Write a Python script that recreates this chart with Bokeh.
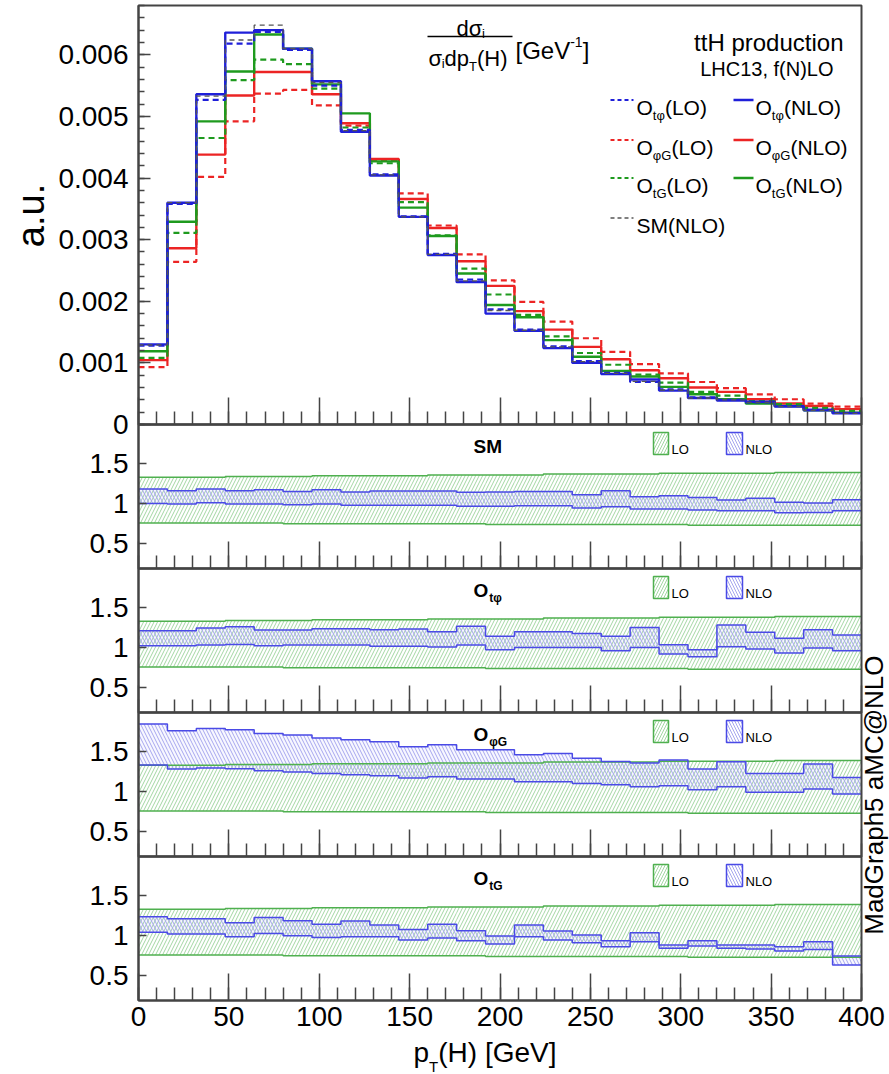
import math
from bokeh.plotting import figure
from bokeh.models import Range1d, LinearAxis, FixedTicker, Label
from bokeh.embed import file_html
from bokeh.resources import INLINE

# ---------------- data ----------------
bin_edges = list(range(0, 401, 16))  # p_T(H) bin edges [GeV]

# normalised distributions (1/sigma dsigma/dpT), in units of 1e-3 GeV^-1
otphi_lo = [1.28, 3.58, 5.27, 6.18, 6.37, 6.08, 5.50, 4.78, 4.06, 3.38, 2.77, 2.35, 1.87,
            1.54, 1.27, 1.03, 0.84, 0.69, 0.57, 0.44, 0.40, 0.36, 0.30, 0.24, 0.19]
otphi_nlo = [1.30, 3.60, 5.36, 6.36, 6.40, 6.10, 5.57, 4.75, 4.04, 3.37, 2.75, 2.31, 1.80,
             1.52, 1.24, 1.00, 0.82, 0.73, 0.55, 0.43, 0.39, 0.37, 0.29, 0.23, 0.18]
ophig_lo = [0.93, 2.64, 4.02, 4.92, 5.37, 5.43, 5.18, 4.85, 4.29, 3.75, 3.23, 2.76, 2.34,
            1.99, 1.67, 1.40, 1.18, 0.98, 0.83, 0.69, 0.59, 0.49, 0.41, 0.34, 0.29]
ophig_nlo = [1.045, 2.86, 4.38, 5.34, 5.72, 5.72, 5.36, 4.89, 4.31, 3.66, 3.19, 2.65, 2.25,
             1.84, 1.54, 1.26, 1.06, 0.88, 0.75, 0.60, 0.53, 0.41, 0.34, 0.30, 0.25]
otg_lo = [1.08, 3.11, 4.65, 5.59, 5.92, 5.85, 5.45, 4.82, 4.24, 3.61, 3.07, 2.53, 2.11,
          1.78, 1.43, 1.16, 0.97, 0.81, 0.68, 0.53, 0.47, 0.38, 0.33, 0.27, 0.22]
otg_nlo = [1.19, 3.29, 4.92, 5.73, 6.33, 6.10, 5.52, 5.05, 4.27, 3.52, 3.06, 2.45, 1.94,
           1.74, 1.37, 1.10, 0.87, 0.78, 0.61, 0.49, 0.41, 0.34, 0.30, 0.23, 0.19]
sm_nlo = [1.29, 3.60, 5.33, 6.24, 6.48, 6.10, 5.55, 4.77, 4.05, 3.37, 2.76, 2.33, 1.85,
          1.53, 1.26, 1.02, 0.83, 0.70, 0.56, 0.43, 0.40, 0.36, 0.29, 0.23, 0.18]

# scale-uncertainty bands (ratio to central value)
lo_band_up = [1.33, 1.33, 1.33, 1.34, 1.34, 1.34, 1.35, 1.35, 1.35, 1.35, 1.36, 1.36, 1.36,
              1.36, 1.37, 1.37, 1.37, 1.37, 1.38, 1.38, 1.38, 1.38, 1.39, 1.39, 1.39]
lo_band_dn = [0.76, 0.76, 0.76, 0.76, 0.76, 0.75, 0.75, 0.75, 0.75, 0.75, 0.75, 0.75, 0.74,
              0.74, 0.74, 0.74, 0.74, 0.74, 0.74, 0.73, 0.73, 0.73, 0.73, 0.73, 0.73]

sm_band_up = [1.183, 1.163, 1.183, 1.163, 1.175, 1.154, 1.175, 1.146, 1.158, 1.158, 1.158, 1.142, 1.146,
              1.154, 1.154, 1.113, 1.163, 1.088, 1.100, 1.079, 1.046, 1.067, 1.017, 1.008, 1.050]
sm_band_dn = [1.004, 0.996, 1.013, 0.996, 0.996, 0.988, 0.996, 0.980, 0.980, 0.980, 0.980, 0.967, 0.967,
              0.975, 0.975, 0.946, 0.963, 0.933, 0.933, 0.921, 0.913, 0.913, 0.888, 0.890, 0.913]

otphi_band_up = [1.213, 1.213, 1.246, 1.263, 1.221, 1.221, 1.238, 1.238, 1.225, 1.233, 1.200, 1.267, 1.142,
                 1.200, 1.200, 1.179, 1.142, 1.254, 1.038, 0.975, 1.283, 1.192, 1.117, 1.225, 1.158]
otphi_band_dn = [1.025, 1.025, 1.033, 1.040, 1.025, 1.035, 1.035, 1.035, 1.017, 1.017, 1.008, 1.033, 0.975,
                 1.004, 1.004, 1.004, 0.963, 1.004, 0.921, 0.888, 1.013, 0.983, 0.933, 0.996, 0.963]

ophig_band_up = [1.846, 1.763, 1.790, 1.775, 1.729, 1.708, 1.671, 1.650, 1.625, 1.563, 1.588, 1.525, 1.525,
                 1.463, 1.479, 1.417, 1.379, 1.358, 1.396, 1.283, 1.375, 1.229, 1.229, 1.346, 1.179]
ophig_band_dn = [1.333, 1.283, 1.296, 1.288, 1.263, 1.246, 1.229, 1.213, 1.200, 1.171, 1.188, 1.158, 1.158,
                 1.125, 1.125, 1.104, 1.088, 1.063, 1.075, 1.025, 1.063, 0.992, 0.992, 1.033, 0.971]

otg_band_up = [1.238, 1.213, 1.213, 1.163, 1.229, 1.188, 1.142, 1.183, 1.133, 1.079, 1.142, 1.063, 0.996,
               1.133, 1.058, 1.008, 0.938, 1.038, 0.883, 0.938, 0.883, 0.883, 0.863, 0.925, 0.746]
otg_band_dn = [1.042, 1.021, 1.021, 0.988, 1.029, 1.000, 0.979, 0.988, 0.988, 0.946, 0.971, 0.938, 0.896,
               0.988, 0.946, 0.913, 0.863, 0.925, 0.842, 0.871, 0.842, 0.833, 0.808, 0.829, 0.633]

top_ticks = [0, 0.001, 0.002, 0.003, 0.004, 0.005, 0.006]
top_tick_labels = ["0", "0.001", "0.002", "0.003", "0.004", "0.005", "0.006"]
ratio_ticks = [0.5, 1, 1.5]
ratio_tick_labels = ["0.5", "1", "1.5"]
x_ticks = [0, 50, 100, 150, 200, 250, 300, 350, 400]
x_tick_labels = ["0", "50", "100", "150", "200", "250", "300", "350", "400"]

# ---------------- style / layout ----------------
FONT = "Liberation Sans"
BLUE, RED, GREEN, GREY = "#1f1fd9", "#ec2424", "#1e9a1e", "#555555"
G_LINE, B_LINE = "#4fb04f", "#4a4ae6"
G_HATCH, B_HATCH = "#a3d6a3", "#a6a6ee"
AX = "#444444"

W, H = 889, 1074
FL, FR = 138, 861            # pixel x of pT = 0 and pT = 400
PANEL_PX = [5, 424, 568, 712, 856, 1000]
X_LO, X_HI = 0, 400
TOP_MAX = 0.0068
R_LO, R_HI = 0.19, 1.99

# the plotting frame covers the whole canvas; every panel gets its own scale
gx = (X_HI - X_LO) / (FR - FL)
x_range = Range1d(X_LO - FL * gx, X_HI + (W - FR) * gx)


def span_range(lo, hi, top_px, bot_px):
    s = (hi - lo) / (bot_px - top_px)
    return Range1d(start=lo - (H - bot_px) * s, end=hi + top_px * s)


rnames = ["r1", "r2", "r3", "r4"]
yr = {"top": span_range(0, TOP_MAX, PANEL_PX[0], PANEL_PX[1])}
for i, nm in enumerate(rnames):
    yr[nm] = span_range(R_LO, R_HI, PANEL_PX[i + 1], PANEL_PX[i + 2])

p = figure(width=W, height=H, output_backend="svg", toolbar_location=None,
           x_range=x_range, y_range=Range1d(-H, 0),
           x_axis_location=None, y_axis_location=None,
           min_border_left=0, min_border_right=0, min_border_top=0, min_border_bottom=0)
p.extra_x_ranges = {"px": Range1d(0, W)}
p.extra_y_ranges = yr
p.grid.visible = False
p.outline_line_color = None
p.background_fill_color = "white"
p.border_fill_color = "white"

# ---------------- top panel histograms ----------------
series = [
    (ophig_lo, RED, "6 4", 2.2), (ophig_nlo, RED, "solid", 2.4),
    (otg_lo, GREEN, "6 4", 2.2), (otg_nlo, GREEN, "solid", 2.4),
    (otphi_lo, BLUE, "6 4", 2.2), (otphi_nlo, BLUE, "solid", 2.4),
    (sm_nlo, GREY, "5 4", 1.3),
]
for vals, col, dash, w in series:
    ys = [v * 1e-3 for v in vals]
    p.step(x=bin_edges, y=ys + ys[-1:], mode="after", y_range_name="top",
           line_color=col, line_dash=dash, line_width=w)

# ---------------- ratio panels ----------------
panels = [
    ("r1", sm_band_up, sm_band_dn),
    ("r2", otphi_band_up, otphi_band_dn),
    ("r3", ophig_band_up, ophig_band_dn),
    ("r4", otg_band_up, otg_band_dn),
]
for rname, up, dn in panels:
    p.quad(left=bin_edges[:-1], right=bin_edges[1:], bottom=lo_band_dn, top=lo_band_up,
           y_range_name=rname, fill_color=None, line_color=None,
           hatch_pattern="/", hatch_color=G_HATCH, hatch_scale=7, hatch_weight=1)
    p.quad(left=bin_edges[:-1], right=bin_edges[1:], bottom=dn, top=up,
           y_range_name=rname, fill_color="#7070ff", fill_alpha=0.06, line_color=None,
           hatch_pattern="\\", hatch_color=B_HATCH, hatch_scale=7, hatch_weight=1)
    for arr, col in [(lo_band_up, G_LINE), (lo_band_dn, G_LINE), (up, B_LINE), (dn, B_LINE)]:
        p.step(x=bin_edges, y=arr + arr[-1:], mode="after", y_range_name=rname,
               line_color=col, line_width=1.5)

# panel frames
p.quad(left=[X_LO], right=[X_HI], bottom=[0], top=[TOP_MAX], y_range_name="top",
       fill_color=None, line_color=AX, line_width=2)
for rname in rnames:
    p.quad(left=[X_LO], right=[X_HI], bottom=[R_LO], top=[R_HI], y_range_name=rname,
           fill_color=None, line_color=AX, line_width=2)

# ---------------- axes ----------------
def style_axis(ax):
    ax.axis_line_color = AX
    ax.axis_line_width = 2
    ax.major_tick_line_color = AX
    ax.minor_tick_line_color = AX
    ax.major_tick_line_width = 1.5
    ax.minor_tick_line_width = 1.5
    ax.major_tick_out = 0
    ax.minor_tick_out = 0
    ax.major_label_text_font = FONT
    ax.major_label_text_font_size = "28px"
    ax.major_label_text_color = "black"


top_minor = [round(i * 0.0002, 4) for i in range(35)]
ya = LinearAxis(y_range_name="top", fixed_location=X_LO, bounds=(0, TOP_MAX),
                ticker=FixedTicker(ticks=top_ticks, minor_ticks=top_minor),
                major_label_overrides={t: s for t, s in zip(top_ticks, top_tick_labels)})
style_axis(ya)
ya.major_tick_in = 12
ya.minor_tick_in = 6
ya.major_label_standoff = 10
p.add_layout(ya, "left")

for rname in rnames:
    ra = LinearAxis(y_range_name=rname, fixed_location=X_LO, bounds=(R_LO, R_HI),
                    ticker=FixedTicker(ticks=ratio_ticks, minor_ticks=[]),
                    major_label_overrides={t: s for t, s in zip(ratio_ticks, ratio_tick_labels)})
    style_axis(ra)
    ra.major_tick_in = 8
    ra.minor_tick_in = 0
    ra.major_label_standoff = 10
    p.add_layout(ra, "left")

x_minor = list(range(0, 401, 10))
for rname in ["top"] + rnames:
    lo = 0 if rname == "top" else R_LO
    xa = LinearAxis(y_range_name=rname, fixed_location=lo, bounds=(X_LO, X_HI),
                    ticker=FixedTicker(ticks=x_ticks, minor_ticks=x_minor),
                    major_label_overrides={t: s for t, s in zip(x_ticks, x_tick_labels)})
    style_axis(xa)
    xa.major_tick_in = 27
    xa.minor_tick_in = 13
    xa.major_label_standoff = 6
    if rname != "r4":
        xa.major_label_text_color = None
    p.add_layout(xa, "below")

# ---------------- texts ----------------
AW = {
    'A': 667, 'B': 667, 'C': 722, 'D': 722, 'E': 667, 'F': 611, 'G': 778, 'H': 722, 'I': 278,
    'L': 556, 'M': 833, 'N': 722, 'O': 778, 'P': 667, 'S': 667, 'T': 611, 'V': 667,
    'a': 556, 'c': 500, 'd': 556, 'e': 556, 'f': 278, 'h': 556, 'i': 222, 'n': 556, 'o': 556,
    'p': 556, 'r': 333, 't': 278, 'u': 556, ' ': 278, '(': 333, ')': 333, '[': 278, ']': 278,
    '-': 333, ',': 278, '.': 278, '@': 1015, 'σ': 600, 'φ': 650,
}


def tw(s, size, bold=False):
    w = sum(AW.get(c, 556) for c in s) / 1000.0 * size
    return w * (1.06 if bold else 1.0)


def put(x, base, s, size, bold=False, align="left", color="black"):
    p.add_layout(Label(x=x, y=-base, x_range_name="px", text=s, text_font=FONT,
                       text_font_size=f"{size}px", text_font_style="bold" if bold else "normal",
                       text_align=align, text_baseline="alphabetic", text_color=color))


def rich(x, base, parts, bold=False):
    for s, size, dy in parts:
        put(x, base + dy, s, size, bold)
        x += tw(s, size, bold)
    return x


# y-axis title
p.add_layout(Label(x=30, y=-215, x_range_name="px", text="a.u.", text_font=FONT,
                   text_font_size="38px", angle=math.pi / 2, text_align="center",
                   text_baseline="middle", text_color="black"))
# right vertical title
p.add_layout(Label(x=873, y=-791, x_range_name="px", text="MadGraph5  aMC@NLO", text_font=FONT,
                   text_font_size="26px", angle=math.pi / 2, text_align="center",
                   text_baseline="middle", text_color="black"))
# x-axis title
rich(413, 1052, [("p", 28, 0), ("T", 15, 14), ("(H) [GeV]", 28, 0)])

# fraction d sigma / (sigma dpT)
rich(456, 28, [("dσ", 22, 0), ("i", 13, 5)])
p.segment(x0=[427], y0=[-36], x1=[512], y1=[-36], x_range_name="px",
          line_color="black", line_width=1.5)
rich(428, 58, [("σ", 22, 0), ("i", 13, 5), ("dp", 22, 0), ("T", 13, 8), ("(H)", 22, 0)])
rich(515, 50, [("[GeV", 24, 0), ("-1", 14, -9), ("]", 24, 0)])

put(843, 42, "ttH production", 24, align="right")
put(833, 68, "LHC13, f(N)LO", 20, align="right")

# legend of top panel
legend_rows = [
    (107, BLUE, "tφ"), (147, RED, "φG"), (185, GREEN, "tG"),
]
for base, col, sub in legend_rows:
    yc = -(base - 7.5)
    p.segment(x0=[610], y0=[yc], x1=[633], y1=[yc], x_range_name="px",
              line_color=col, line_width=2, line_dash="4 3")
    rich(636, base, [("O", 21, 0), (sub, 13, 8), ("(LO)", 21, 0)])
    p.segment(x0=[733], y0=[yc], x1=[753], y1=[yc], x_range_name="px",
              line_color=col, line_width=2.4)
    rich(755, base, [("O", 21, 0), (sub, 13, 8), ("(NLO)", 21, 0)])
p.segment(x0=[610], y0=[-217.5], x1=[633], y1=[-217.5], x_range_name="px",
          line_color=GREY, line_width=1.3, line_dash="4 3")
put(636, 225, "SM(NLO)", 21)

# ratio panel titles and LO/NLO keys
titles = [
    [("SM", 19, 0)],
    [("O", 19, 0), ("tφ", 12, 7)],
    [("O", 19, 0), ("φG", 12, 7)],
    [("O", 19, 0), ("tG", 12, 7)],
]
for i, parts in enumerate(titles):
    top = PANEL_PX[i + 1]
    rich(473, top + 22, parts, bold=True)
    p.quad(left=[653], right=[668], top=[-(top + 8)], bottom=[-(top + 30)], x_range_name="px",
           fill_color=None, line_color=G_LINE, line_width=1.5,
           hatch_pattern="/", hatch_color=G_HATCH, hatch_scale=6, hatch_weight=1)
    put(671, top + 25, "LO", 13)
    p.quad(left=[726], right=[742], top=[-(top + 8)], bottom=[-(top + 30)], x_range_name="px",
           fill_color=None, line_color=B_LINE, line_width=1.5,
           hatch_pattern="\\", hatch_color=B_HATCH, hatch_scale=6, hatch_weight=1)
    put(745, top + 25, "NLO", 13)

open("out.html", "w").write(file_html(p, INLINE))
